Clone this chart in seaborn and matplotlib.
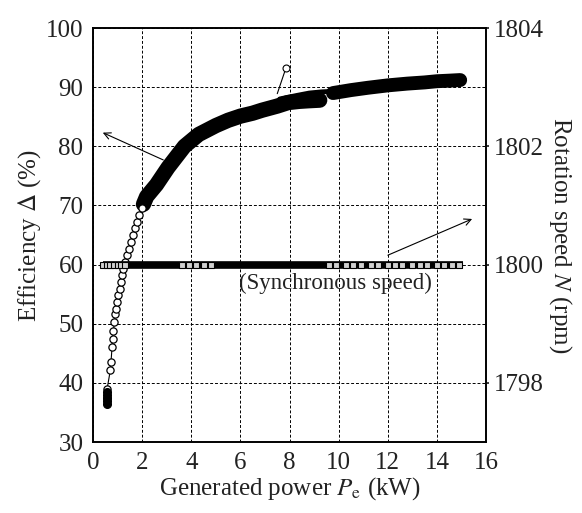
import matplotlib
matplotlib.use("Agg")
import matplotlib.pyplot as plt
import seaborn as sns

# Efficiency: individually visible measurement circles at low power
low_power = [0.56, 0.56, 0.56, 0.56, 0.56, 0.57, 0.70, 0.73, 0.77, 0.79, 0.83, 0.86,
             0.90, 0.93, 0.97, 1.03, 1.10, 1.14, 1.19, 1.23, 1.30, 1.40, 1.46,
             1.53, 1.61, 1.71, 1.80, 1.88, 1.98]
low_eff = [36.4, 36.9, 37.4, 37.9, 38.4, 39.0, 42.1, 43.6, 46.0, 47.4, 48.7, 50.3,
           51.7, 52.5, 53.7, 54.8, 55.9, 57.0, 58.2, 59.3, 60.4, 61.6, 62.7,
           63.8, 65.0, 66.1, 67.2, 68.4, 69.5]

# Efficiency: dense part of the cloud (solid band), first run
band_power = [2.05, 2.18, 2.58, 3.05, 3.72, 4.3, 5.0, 5.5, 6.0, 6.5, 6.88, 7.5,
              7.95, 8.4, 8.77, 9.23]
band_eff = [70.2, 71.5, 73.5, 76.4, 80.0, 82.0, 83.5, 84.4, 85.1, 85.6, 86.1, 86.8,
            87.4, 87.6, 87.7, 87.8]

# Efficiency: upper thin strand between the runs
strand_power = [7.6, 8.3, 8.8, 9.3, 9.8]
strand_eff = [88.0, 88.6, 89.0, 89.2, 89.3]

# Efficiency: second run
band2_power = [9.77, 10.5, 11.2, 12.0, 12.8, 13.5, 14.0, 14.5, 14.95]
band2_eff = [89.0, 89.5, 89.9, 90.3, 90.6, 90.8, 91.0, 91.1, 91.2]

# stray point at 8 kW
stray_power = [7.5, 7.85]
stray_eff = [88.9, 93.2]

# Rotation speed (synchronous, 1800 rpm)
speed_power = [0.40, 15.05]
speed_rpm = [1800, 1800]
speed_open_power = [0.42, 0.55, 0.70, 0.85, 1.0, 1.15, 1.3, 3.6, 3.9, 4.2, 4.5, 4.8,
                    9.6, 9.9, 10.3, 10.6, 10.9, 11.3, 11.6, 12.0, 12.3, 12.6,
                    13.0, 13.3, 13.6, 14.0, 14.3, 14.6, 14.9]
speed_open_rpm = [1800] * len(speed_open_power)

x_ticks = [0, 2, 4, 6, 8, 10, 12, 14, 16]
eff_ticks = [30, 40, 50, 60, 70, 80, 90, 100]
rpm_ticks = [1798, 1800, 1802, 1804]

sns.set_theme(style="ticks")
plt.rcParams["font.family"] = ["Liberation Serif", "DejaVu Serif"]
plt.rcParams["mathtext.fontset"] = "stix"

fig = plt.figure(figsize=(5.82, 5.13), dpi=100)
ax = fig.add_axes([0.160, 0.1384, 0.675, 0.807])
ax2 = ax.twinx()

# speed series drawn on the twin axis
sns.lineplot(x=speed_power, y=speed_rpm, ax=ax2, color="black", lw=5.5,
             solid_capstyle="butt", sort=False)
sns.lineplot(x=speed_open_power, y=speed_open_rpm, ax=ax2, color="black", lw=0,
             marker="s", markersize=5, markerfacecolor="#d0d0d0",
             markeredgecolor="black", markeredgewidth=0.8, sort=False)

# efficiency series
sns.lineplot(x=band_power, y=band_eff, ax=ax, color="black", lw=11,
             solid_capstyle="round", solid_joinstyle="round", sort=False)
sns.lineplot(x=band2_power, y=band2_eff, ax=ax, color="black", lw=10,
             solid_capstyle="round", solid_joinstyle="round", sort=False)
sns.lineplot(x=strand_power, y=strand_eff, ax=ax, color="black", lw=3.5,
             solid_capstyle="round", sort=False)
sns.lineplot(x=low_power, y=low_eff, ax=ax, color="black", lw=0.8,
             marker="o", markersize=5.2, markerfacecolor="white",
             markeredgecolor="black", markeredgewidth=0.9, sort=False)
sns.lineplot(x=stray_power, y=stray_eff, ax=ax, color="black", lw=0.8, sort=False)
ax.plot(stray_power[-1:], stray_eff[-1:], "o", ms=5, mfc="white", mec="black", mew=0.8)
# the cluster at the lowest power is filled
ax.plot(low_power[:5], low_eff[:5], "o", ms=5.5, color="black")

ax.set_xlim(0, 16)
ax.set_ylim(30, 100)
ax2.set_ylim(1797, 1804)
ax.set_xticks(x_ticks)
ax.set_yticks(eff_ticks)
ax2.set_yticks(rpm_ticks)
ax2.set_xlim(0, 16)

ax.grid(True, color="black", linestyle=(0, (3, 2)), linewidth=0.7)
ax.set_axisbelow(True)
for a in (ax, ax2):
    for s in a.spines.values():
        s.set_linewidth(1.2)
        s.set_color("black")
        s.set_visible(True)

ax.tick_params(axis="both", length=0, labelsize=18, colors="#222222", pad=7)
ax2.tick_params(axis="y", length=2.5, direction="out", labelsize=18, colors="#222222", pad=3)

ax.set_xlabel(r"Generated power $P_{\rm e}$ (kW)", fontsize=18, labelpad=1, color="#222222")
ax.set_ylabel(r"Efficiency $\mathit{\Delta}$ (%)", fontsize=18, labelpad=2, color="#222222")
ax2.set_ylabel(r"Rotation speed $N$ (rpm)", fontsize=18, rotation=-90, labelpad=22,
               color="#222222")

ax.annotate("", xy=(0.29, 82.5), xytext=(2.96, 77.5),
            arrowprops=dict(arrowstyle="->", color="black", lw=0.8))
ax.annotate("", xy=(15.54, 67.9), xytext=(11.9, 61.4),
            arrowprops=dict(arrowstyle="->", color="black", lw=0.8))
ax.text(9.85, 56.8, "(Synchronous speed)", fontsize=16.5, ha="center", va="center",
        color="#222222")

fig.savefig("out.png", dpi=100)
